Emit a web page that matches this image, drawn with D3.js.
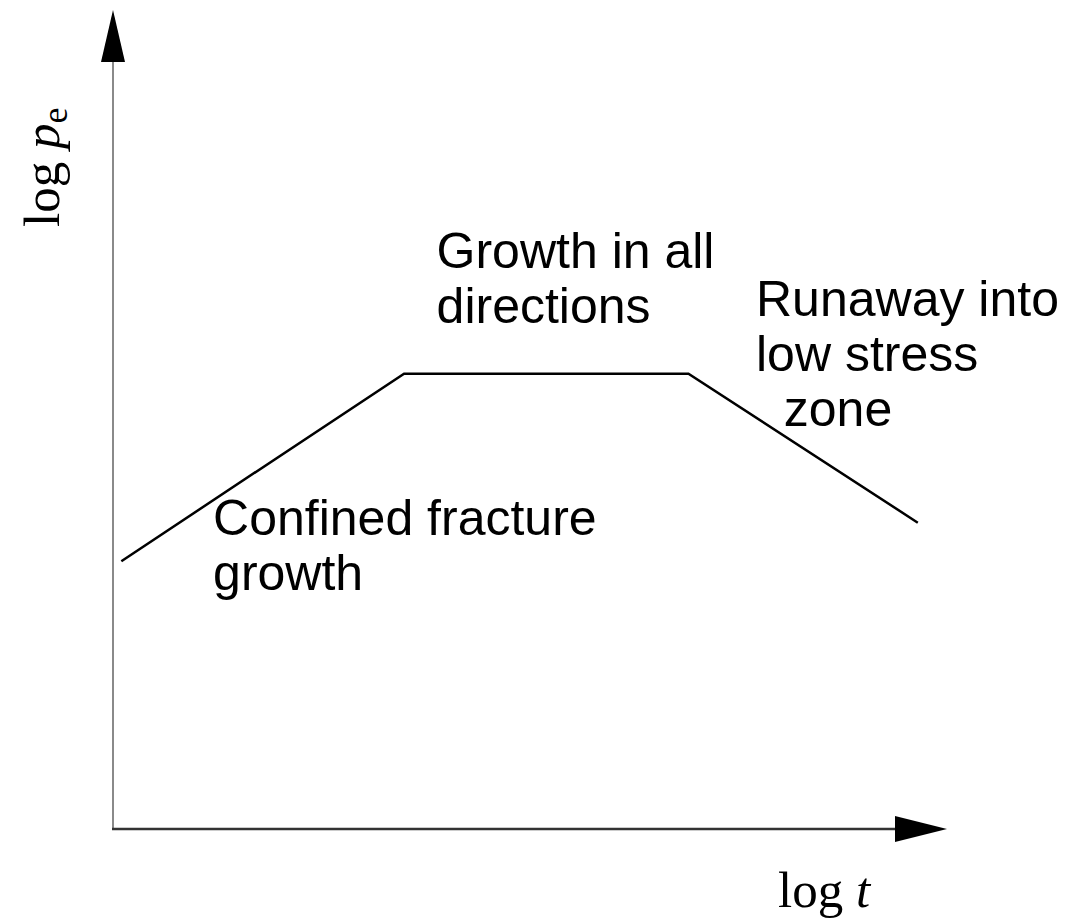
<!DOCTYPE html>
<html>
<head>
<meta charset="utf-8">
<script src="https://cdn.jsdelivr.net/npm/d3@7"></script>
<style>
  html, body { margin: 0; padding: 0; background: #fff; }
  svg { display: block; }
</style>
</head>
<body>
<svg id="chart" width="1068" height="919"></svg>
<script>
// Schematic pressure history: log p_e against log t (arbitrary units)
const logT  = [0.10, 3.49, 6.90, 9.65];
const logPe = [3.27, 5.56, 5.56, 3.74];

// Stage annotations (text lines) and where each block sits in data units
const stageLines = [
  ["Growth in all", "directions"],
  ["Runaway into", "low stress", "  zone"],
  ["Confined fracture", "growth"]
];
const stageAnchorT  = [3.88, 7.71, 1.20];
const stageAnchorPe = [6.85, 6.26, 3.59];

const svg = d3.select("#chart");
const W = 1068, H = 919;
const x0 = 113, x1 = 947, y0 = 829, y1 = 10;

const x = d3.scaleLinear().domain([0, 10]).range([x0, x1]);
const y = d3.scaleLinear().domain([0, 10]).range([y0, y1]);

// Axes
svg.append("line")
  .attr("x1", x(0)).attr("y1", y(0)).attr("x2", x(0)).attr("y2", y(10) + 40)
  .attr("stroke", "#8a8a8a").attr("stroke-width", 2);
svg.append("line")
  .attr("x1", x(0) - 1).attr("y1", y(0)).attr("x2", x(10) - 40).attr("y2", y(0))
  .attr("stroke", "#333").attr("stroke-width", 2.5);

// Arrowheads
svg.append("path")
  .attr("d", `M${x(0)},${y(10)} L${x(0) + 12},${y(10) + 52} L${x(0) - 12},${y(10) + 52} Z`)
  .attr("fill", "#000");
svg.append("path")
  .attr("d", `M${x(10)},${y(0)} L${x(10) - 52},${y(0) - 13} L${x(10) - 52},${y(0) + 13} Z`)
  .attr("fill", "#000");

// Pressure curve
const pts = logT.map((t, i) => [t, logPe[i]]);
svg.append("path")
  .datum(pts)
  .attr("d", d3.line().x(d => x(d[0])).y(d => y(d[1])))
  .attr("fill", "none")
  .attr("stroke", "#000")
  .attr("stroke-width", 2.5)
  .attr("stroke-linejoin", "miter");

// Stage labels
const lineGap = 55;
stageLines.forEach((lines, k) => {
  const t = svg.append("text")
    .attr("font-family", "'Liberation Sans', Arial, Helvetica, sans-serif")
    .attr("font-size", 50)
    .attr("fill", "#000")
    .attr("xml:space", "preserve")
    .style("white-space", "pre");
  lines.forEach((s, j) => {
    t.append("tspan")
      .attr("x", x(stageAnchorT[k]))
      .attr("y", y(stageAnchorPe[k]) + j * lineGap)
      .text(s);
  });
});

// Axis titles
const serif = "'Liberation Serif', 'Times New Roman', Times, serif";
const xt = svg.append("text")
  .attr("x", 778).attr("y", 907)
  .attr("font-family", serif).attr("font-size", 51).attr("fill", "#000");
xt.append("tspan").text("log ");
xt.append("tspan").attr("font-style", "italic").text("t");

const yt = svg.append("text")
  .attr("transform", "translate(59,227) rotate(-90)")
  .attr("font-family", serif).attr("font-size", 51).attr("fill", "#000");
yt.append("tspan").text("log ");
yt.append("tspan").attr("font-style", "italic").text("p");
yt.append("tspan").attr("font-size", 36).attr("dy", 8).text("e");
</script>
</body>
</html>
